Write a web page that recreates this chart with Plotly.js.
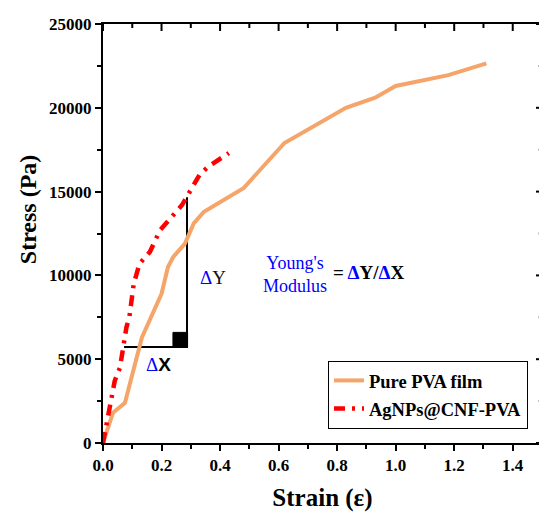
<!DOCTYPE html>
<html>
<head>
<meta charset="utf-8">
<script src="https://cdn.plot.ly/plotly-3.0.1.min.js"></script>
<style>
html,body{margin:0;padding:0;overflow:hidden;background:#fff;}
#chart{width:545px;height:515px;}
</style>
</head>
<body>
<div id="chart"></div>
<script>
// Pure PVA film
const pvaStrain = [0, 0.034, 0.075, 0.133, 0.20, 0.222, 0.24, 0.28, 0.31, 0.345, 0.48, 0.62, 0.83, 0.93, 1.0, 1.18, 1.31];
const pvaStress = [0, 1800, 2400, 6300, 8900, 10500, 11100, 11900, 13100, 13800, 15200, 17900, 20000, 20600, 21300, 21950, 22650];
// AgNPs@CNF-PVA
const agStrain = [0, 0.014, 0.027, 0.04, 0.058, 0.068, 0.08, 0.09, 0.105, 0.125, 0.16, 0.195, 0.22, 0.27, 0.29, 0.33, 0.36, 0.43];
const agStress = [0, 1400, 2700, 3700, 4500, 5500, 6900, 7500, 9500, 10700, 11400, 12700, 13200, 14200, 14800, 16000, 16500, 17300];
// slope guide (ΔX / ΔY)
const guideX = [0.072, 0.287, 0.287];
const guideY = [5730, 5730, 14670];
const cornerX = [0.239, 0.289, 0.289, 0.239, 0.239];
const cornerY = [5730, 5730, 6600, 6600, 5730];
const seriesNames = ['Pure PVA film', 'AgNPs@CNF-PVA'];
const xTicks = [0, 0.2, 0.4, 0.6, 0.8, 1.0, 1.2, 1.4];
const xTickText = ['0.0', '0.2', '0.4', '0.6', '0.8', '1.0', '1.2', '1.4'];
const xMinorTicks = [0.1, 0.3, 0.5, 0.7, 0.9, 1.1, 1.3];
const yTicks = [0, 5000, 10000, 15000, 20000, 25000];
const yTickText = ['0', '5000', '10000', '15000', '20000', '25000'];
const yMinorTicks = [2500, 7500, 12500, 17500, 22500];

const serif = 'Liberation Serif, Times New Roman, serif';

const traces = [
  {x: guideX, y: guideY, mode: 'lines', line: {color: '#000', width: 2}, showlegend: false, hoverinfo: 'skip'},
  {x: cornerX, y: cornerY, mode: 'lines', fill: 'toself', fillcolor: '#000', line: {color: '#000', width: 1}, showlegend: false, hoverinfo: 'skip'},
  {x: pvaStrain, y: pvaStress, mode: 'lines', name: seriesNames[0], line: {color: '#F5A46A', width: 4}, legendgroup: 'a'},
  {x: agStrain, y: agStress, mode: 'lines', name: seriesNames[1], line: {color: '#FF0000', width: 4.5, dash: '11px,7px,3px,7px'}, legendgroup: 'b'}
];

// inward ticks on the mirrored (top / right) sides, placed through the axis scales
const topTick = (v, len) => ({type: 'line', xref: 'x', yref: 'paper', ysizemode: 'pixel', yanchor: 1,
  x0: v, x1: v, y0: 0, y1: -len, line: {color: '#000', width: 2}, layer: 'above'});
const rightTick = (v, len, col) => ({type: 'line', xref: 'paper', yref: 'y', xsizemode: 'pixel', xanchor: 1,
  y0: v, y1: v, x0: 0, x1: -len, line: {color: col, width: 2}, layer: 'above'});
const shapes = []
  .concat(xTicks.map(v => topTick(v, 7)))
  .concat(xMinorTicks.map(v => topTick(v, 4)))
  .concat(yTicks.map(v => rightTick(v, 6, '#000')))
  .concat(yMinorTicks.map(v => rightTick(v, 4, '#bbb')));

const tickfont = {family: serif, size: 17, color: '#000', weight: 'bold'};
const plain = {showgrid: false, zeroline: false};
const layout = {
  width: 545, height: 515,
  margin: {l: 103, r: 3, t: 24, b: 72},
  paper_bgcolor: '#fff', plot_bgcolor: '#fff',
  font: {family: serif, color: '#000'},
  xaxis: Object.assign({
    range: [0, 1.5], tickvals: xTicks, ticktext: xTickText,
    showline: true, mirror: true, linecolor: '#000', linewidth: 2,
    ticks: 'outside', ticklen: 6, tickwidth: 2, tickcolor: '#000',
    minor: {dtick: 0.1, ticks: 'outside', ticklen: 4, tickwidth: 2, tickcolor: '#000', showgrid: false},
    tickfont: tickfont,
    title: {text: 'Strain (ε)', font: {family: serif, size: 25, color: '#000', weight: 'bold'}, standoff: 14}
  }, plain),
  yaxis: Object.assign({
    range: [0, 25000], tickvals: yTicks, ticktext: yTickText,
    showline: true, mirror: true, linecolor: '#000', linewidth: 2,
    ticks: 'outside', ticklen: 6, tickwidth: 2, tickcolor: '#000',
    minor: {dtick: 2500, ticks: 'outside', ticklen: 4, tickwidth: 2, tickcolor: '#000', showgrid: false},
    tickfont: tickfont
  }, plain),
  shapes: shapes,
  showlegend: true,
  legend: {
    x: 0.5125, y: 0.196, xanchor: 'left', yanchor: 'top',
    bordercolor: '#000', borderwidth: 1, bgcolor: '#fff',
    font: {family: serif, size: 18.5, color: '#000', weight: 'bold'},
    traceorder: 'grouped', tracegroupgap: 1, itemwidth: 30
  },
  annotations: [
    {x: 0, y: 0.558, xref: 'paper', yref: 'paper', xanchor: 'center', yanchor: 'middle', xshift: -75, textangle: -90, showarrow: false,
     text: 'Stress (Pa)', font: {family: serif, size: 24, color: '#000', weight: 'bold'}},
    {x: 0.287, y: 9900, xref: 'x', yref: 'y', xanchor: 'left', yanchor: 'middle', xshift: 11, showarrow: false,
     text: '<span style="color:#0000ff">Δ</span><span style="color:#111">Y</span>', font: {family: serif, size: 19}},
    {x: 0.19, y: 4700, xref: 'x', yref: 'y', xanchor: 'center', yanchor: 'middle', showarrow: false,
     text: '<span style="color:#0000ff">Δ</span><b style="font-family:Liberation Sans">X</b>', font: {family: serif, size: 19}},
    {x: 0.655, y: 10050, xref: 'x', yref: 'y', xanchor: 'center', yanchor: 'middle', showarrow: false,
     text: "Young's<br>Modulus", align: 'center', font: {family: serif, size: 18, color: '#0000ff'}},
    {x: 0.78, y: 10200, xref: 'x', yref: 'y', xanchor: 'left', yanchor: 'middle', showarrow: false,
     text: '<b>= <span style="color:#0000ff">Δ</span>Y/<span style="color:#0000ff">Δ</span>X</b>', font: {family: serif, size: 19, color: '#000'}}
  ]
};

Plotly.newPlot('chart', traces, layout, {displayModeBar: false, staticPlot: true});
</script>
</body>
</html>
